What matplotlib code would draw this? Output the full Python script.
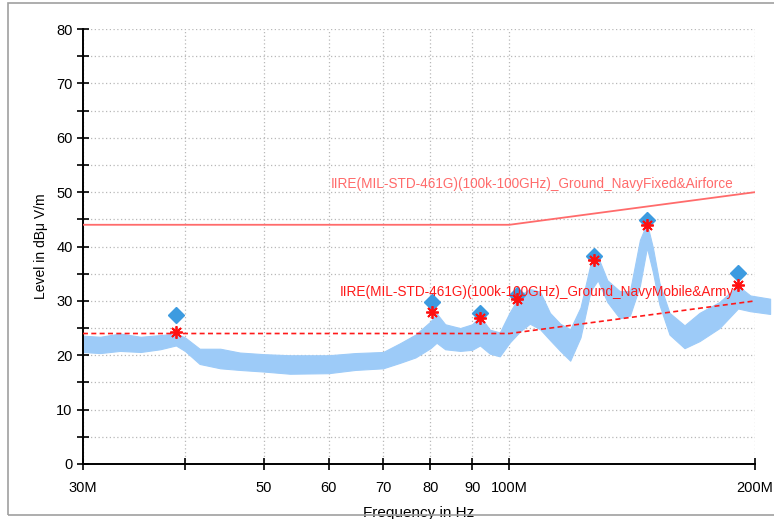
import matplotlib.pyplot as plt
from matplotlib.patches import Rectangle
from matplotlib.ticker import FixedLocator, NullFormatter

plt.rcParams['font.family'] = ['Liberation Sans', 'DejaVu Sans']

# measured trace envelope (MHz, dBuV/m)
freq_mhz = [30.0, 31.5, 33.3, 35.3, 37.3, 39.0, 40.0, 41.7, 44.2, 46.7, 50.0, 53.8,
            60.0, 64.7, 70.0, 73.4, 76.7, 80.0, 81.4, 83.4, 87.0, 90.0, 92.0, 94.6,
            97.3, 100.0, 102.9, 105.9, 109.0, 112.1, 115.4, 118.7, 122.2, 125.7,
            128.3, 131.8, 136.5, 140.5, 144.5, 147.4, 149.9, 152.7, 157.1, 163.9,
            171.0, 180.9, 190.6, 197.3, 208.7]
trace_hi = [23.6, 23.4, 24.0, 23.4, 23.7, 24.0, 23.3, 21.2, 21.2, 20.5, 20.2, 20.0,
            20.0, 20.4, 20.6, 22.2, 23.8, 26.2, 27.7, 25.7, 25.0, 25.7, 27.2, 24.7,
            24.2, 27.8, 31.0, 32.2, 31.7, 27.8, 25.8, 24.8, 28.8, 36.8,
            38.2, 33.8, 31.8, 31.8, 41.2, 44.3, 39.8, 33.3, 27.8, 25.5,
            27.8, 29.8, 32.8, 31.0, 30.4]
trace_lo = [20.6, 20.4, 20.8, 20.6, 21.1, 21.8, 20.8, 18.4, 17.6, 17.3, 17.0, 16.6,
            16.7, 17.3, 17.6, 18.6, 19.6, 21.3, 22.3, 21.1, 20.8, 21.0, 21.8, 20.3,
            19.8, 22.3, 24.3, 25.8, 24.8, 22.8, 20.8, 19.0, 23.3, 31.8,
            33.8, 29.8, 26.8, 27.3, 32.8, 39.8, 35.3, 29.3, 23.8, 21.3,
            22.6, 25.0, 28.6, 28.1, 27.6]

# peak (diamond) and quasi-peak (asterisk) results
peak_freq = [39.0, 80.4, 92.0, 102.0, 127.0, 147.5, 190.6]
peak_level = [27.4, 29.8, 27.8, 31.1, 38.3, 44.9, 35.1]
qp_freq = [39.0, 80.4, 92.0, 102.0, 127.0, 147.5, 190.6]
qp_level = [24.3, 28.0, 26.9, 30.3, 37.6, 44.0, 32.9]

# limit lines
limit_freq = [30, 100, 200]
limit_fixed = [44, 44, 50]
limit_mobile = [24, 24, 30]

xticks = [30, 40, 50, 60, 70, 80, 90, 100, 200]
xtick_labels = ['30M', '', '50', '60', '70', '80', '90', '100M', '200M']

fig = plt.figure(figsize=(7.74, 5.19), dpi=100)
ax = fig.add_axes([0.1072, 0.106, 0.8683, 0.838])

ax.fill_between(freq_mhz, trace_lo, trace_hi, color='#9dcbf8', lw=0.8,
                edgecolor='#9dcbf8', clip_on=False, zorder=2)

ax.plot(limit_freq, limit_fixed, '-', color='#ff6b6b', lw=1.3, zorder=3)
ax.plot(limit_freq, limit_mobile, '--', color='#ff1a1a', lw=1.2, dashes=(3, 2), zorder=3)

ax.plot(peak_freq, peak_level, 'D', color='#3d9be0', ms=8.5, ls='none', zorder=4)
ax.plot(qp_freq, qp_level, marker=(8, 2, 0), color='#ff1010', ms=9, mew=1.3,
        ls='none', zorder=5)

ax.text(60.3, 51.5, 'IIRE(MIL-STD-461G)(100k-100GHz)_Ground_NavyFixed&Airforce',
        color='#ff6b6b', fontsize=9.8, va='center', ha='left', zorder=6)
ax.text(61.9, 31.6, 'IIRE(MIL-STD-461G)(100k-100GHz)_Ground_NavyMobile&Army',
        color='#ff1a1a', fontsize=9.8, va='center', ha='left', zorder=6)

ax.set_xscale('log')
ax.set_xlim(30, 200)
ax.set_ylim(0, 80)
ax.xaxis.set_major_locator(FixedLocator(xticks))
ax.set_xticklabels(xtick_labels)
ax.xaxis.set_minor_locator(FixedLocator([]))
ax.xaxis.set_minor_formatter(NullFormatter())
ax.set_yticks(range(0, 81, 10))
ax.set_yticks(range(5, 80, 10), minor=True)

ax.grid(True, which='both', axis='y', color='#b8b8b8', ls=(0, (1, 2)), lw=0.9)
ax.grid(True, which='major', axis='x', color='#b8b8b8', ls=(0, (1, 2)), lw=0.9)
ax.set_axisbelow(True)

for side in ['top', 'right']:
    ax.spines[side].set_visible(False)
for side in ['left', 'bottom']:
    ax.spines[side].set_linewidth(1.4)
ax.tick_params(which='both', direction='inout', length=8, width=1.2, labelsize=10.5)
ax.tick_params(axis='x', pad=8)

ax.set_xlabel('Frequency in Hz', fontsize=11, labelpad=8)
ax.set_ylabel('Level in dBμ V/m', fontsize=10, labelpad=6)

fig.patches.append(Rectangle((8 / 774, 4 / 519), 770 / 774, 512 / 519, transform=fig.transFigure,
                             fill=False, edgecolor='#a0a0a0', lw=1.2))

fig.savefig('out.png', dpi=100)
